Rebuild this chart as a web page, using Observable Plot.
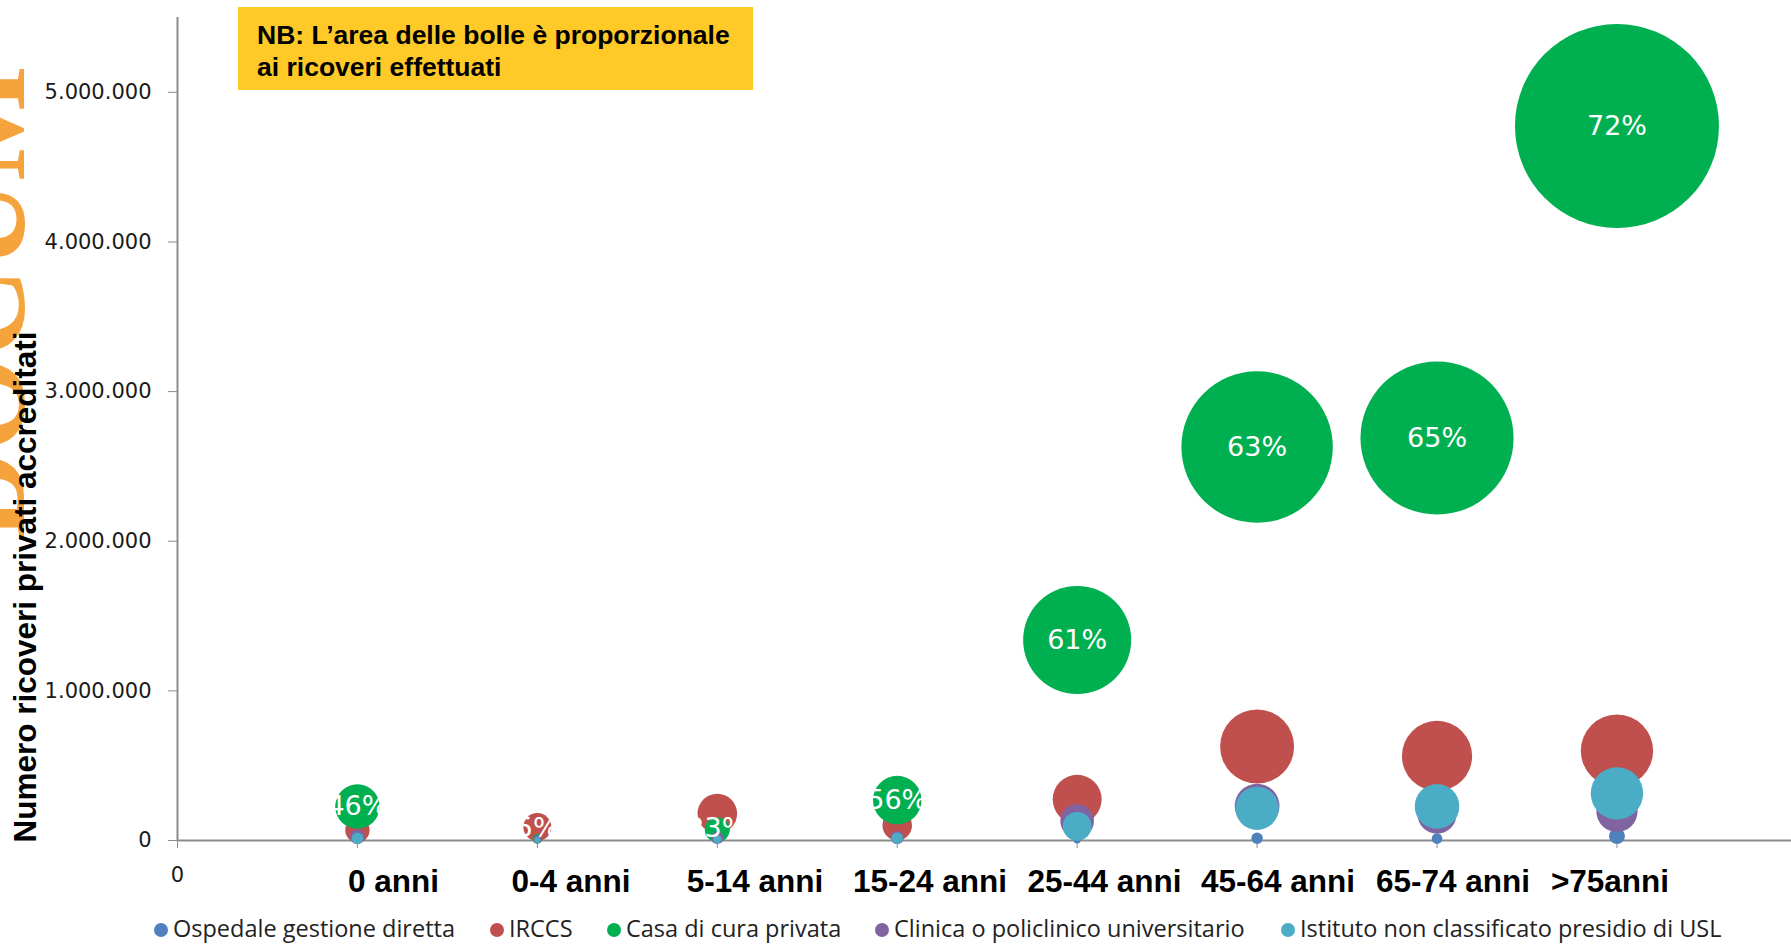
<!DOCTYPE html>
<html><head><meta charset="utf-8">
<script src="https://cdn.jsdelivr.net/npm/d3@7"></script>
<script src="https://cdn.jsdelivr.net/npm/@observablehq/plot@0.6"></script>
<style>
html,body{margin:0;padding:0;background:#fff;}
#wrap{position:relative;width:1791px;height:944px;overflow:hidden;background:#fff;}
#chart{position:absolute;left:0;top:0;}
.ov{position:absolute;}
#note{left:238px;top:7px;width:496px;height:71px;background:#FFCA28;padding:12px 0 0 19px;box-sizing:content-box;
  font-family:"Liberation Sans",Arial,sans-serif;font-weight:bold;font-size:26.5px;line-height:32px;color:#000;white-space:nowrap;}
.cat{position:absolute;top:862px;line-height:38px;transform:translateX(-50%);white-space:nowrap;
  font-family:"Liberation Sans Narrow","Arial Narrow","Liberation Sans",sans-serif;font-weight:bold;font-size:31.5px;color:#000;}
#ytitle{left:25px;top:587px;transform:translate(-50%,-50%) rotate(-90deg);white-space:nowrap;
  font-family:"Liberation Sans Narrow","Arial Narrow","Liberation Sans",sans-serif;font-weight:bold;font-size:31.5px;color:#000;}
#legend{position:absolute;left:0;top:912px;width:1791px;height:32px;}
.leg{position:absolute;top:0;height:32px;line-height:32px;display:flex;align-items:center;white-space:nowrap;
  font-family:"Open Sans",sans-serif;font-size:23.5px;color:#222;}
.leg i{display:inline-block;width:14px;height:14px;border-radius:50%;margin-right:5px;margin-top:3px;}
</style></head><body>
<div id="wrap"></div>
<script>
// ---- data ----
const categories = ["0 anni", "0-4 anni", "5-14 anni", "15-24 anni", "25-44 anni", "45-64 anni", "65-74 anni", ">75anni"];
const seriesNames = ["Ospedale gestione diretta", "IRCCS", "Casa di cura privata", "Clinica o policlinico universitario", "Istituto non classificato presidio di USL"];
const seriesColors = ["#4F81BD", "#C0504D", "#00B050", "#8064A2", "#4BACC6"];
const ospedaleGestioneDiretta = [3000, 2000, 3000, 5000, 8000, 15000, 13000, 29000];
const irccs = [68000, 90000, 180000, 100000, 275000, 628000, 565000, 600000];
const casaDiCuraPrivata = [227000, 11000, 72000, 270000, 1340000, 2630000, 2690000, 4775000];
const clinicaUniversitaria = [25000, 8000, 18000, 20000, 130000, 230000, 175000, 195000];
const istitutoNonClassificato = [15000, 4000, 8000, 15000, 95000, 215000, 228000, 315000];
const casaPercent = [46, 5, 23, 56, 61, 63, 65, 72];
const yTicks = [0, 1000000, 2000000, 3000000, 4000000, 5000000];
const xTickPositions = [0, 1, 2, 3, 4, 5, 6, 7, 8];
const noteLines = ["NB: L\u2019area delle bolle è proporzionale", "ai ricoveri effettuati"];
const yTitle = "Numero ricoveri privati accreditati";
const watermarkText = "DOCUM";

// ---- build ----
const seriesValues = [ospedaleGestioneDiretta, irccs, casaDiCuraPrivata, clinicaUniversitaria, istitutoNonClassificato];
const rows = [];
seriesValues.forEach((vals, s) => vals.forEach((v, i) => rows.push({x: i + 1, v, s: seriesNames[s]})));
// labels kept inside the plot area (as the spreadsheet does): never lower than ~the label half-height
const labelMin = 80000;
const labelRows = casaDiCuraPrivata.map((v, i) => ({x: i + 1, v: Math.max(v, labelMin), t: casaPercent[i] + "%"}));
const itFmt = d3.formatLocale({decimal: ",", thousands: ".", grouping: [3], currency: ["", "€"]}).format(",d");

const chart = Plot.plot({
  width: 1791, height: 905,
  marginLeft: 177, marginRight: 0, marginTop: 17, marginBottom: 65,
  x: {domain: [0, 8.97]},
  y: {domain: [0, 5500000]},
  r: {type: "sqrt", domain: [0, 4775000], range: [0, 102]},
  color: {domain: seriesNames, range: seriesColors},
  style: {fontFamily: "DejaVu Sans", background: "white", overflow: "visible"},
  marks: [
    Plot.ruleX([0], {y1: 0, y2: 5500000, stroke: "#8c8c8c", strokeWidth: 2}),
    Plot.axisY({ticks: yTicks, tickFormat: itFmt, tickSize: 9, tickPadding: 17, fontSize: 21, stroke: "#8c8c8c", fill: "#1a1a1a", label: null}),
    Plot.ruleY([0], {stroke: "#8c8c8c", strokeWidth: 2}),
    Plot.axisX({ticks: xTickPositions, tickSize: 8, tickPadding: 19, fontSize: 21, stroke: "#8c8c8c", fill: "#1a1a1a",
      tickFormat: d => d === 0 ? "0" : "", label: null}),
    Plot.dot(rows, {x: "x", y: "v", r: "v", fill: "s", sort: null}),
    Plot.text(labelRows, {x: "x", y: "v", text: "t", fill: "white", fontSize: 27, fontFamily: "DejaVu Sans"})
  ]
});
chart.id = "chart";
const wrap = document.getElementById("wrap");
wrap.appendChild(chart);

// watermark (clipped at the left edge, as in the source)
const ns = "http://www.w3.org/2000/svg";
const wm = document.createElementNS(ns, "svg");
wm.setAttribute("width", 120); wm.setAttribute("height", 944);
wm.setAttribute("class", "ov"); wm.style.left = "0px"; wm.style.top = "0px";
const wt = document.createElementNS(ns, "text");
wt.setAttribute("transform", "translate(24,540) rotate(-90)");
wt.setAttribute("font-family", "Liberation Serif, DejaVu Serif, serif");
wt.setAttribute("font-weight", "bold");
wt.setAttribute("font-size", "122");
wt.setAttribute("fill", "#F5A33C");
wt.textContent = watermarkText;
wm.appendChild(wt);
wrap.appendChild(wm);

// y title
const yt = document.createElement("div");
yt.id = "ytitle"; yt.className = "ov"; yt.textContent = yTitle;
wrap.appendChild(yt);

// note
const note = document.createElement("div");
note.id = "note"; note.className = "ov";
note.innerHTML = noteLines.join("<br>");
wrap.appendChild(note);

// category labels: one text line under the axis, as in the source slide
const catCenters = [393.5, 571, 755, 930, 1104.5, 1278, 1453, 1610];
categories.forEach((c, i) => {
  const d = document.createElement("div");
  d.className = "cat"; d.textContent = c;
  d.style.left = catCenters[i] + "px";
  wrap.appendChild(d);
});

// legend
const legend = document.createElement("div");
legend.id = "legend";
const legLeft = [154, 490, 607, 875, 1281];
seriesNames.forEach((n, i) => {
  const it = document.createElement("div");
  it.className = "leg"; it.style.left = legLeft[i] + "px";
  it.innerHTML = `<i style="background:${seriesColors[i]}"></i><span>${n}</span>`;
  legend.appendChild(it);
});
wrap.appendChild(legend);
</script>
</body></html>
